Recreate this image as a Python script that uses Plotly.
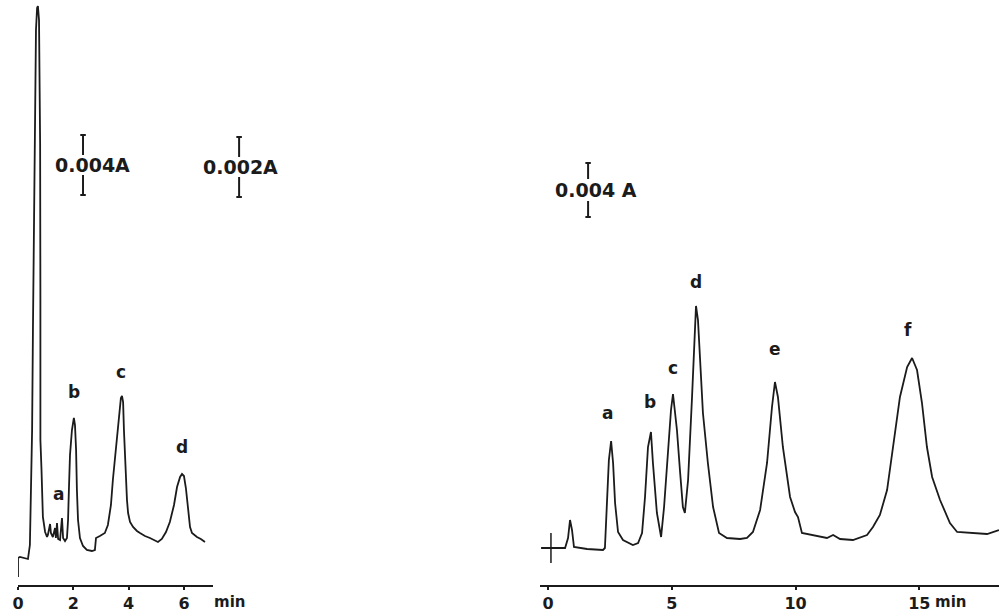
import plotly.graph_objects as go

# ---------------- data (time in min, detector response in arbitrary units) -------------
# Left chromatogram
left_time = [0.00, 0.00, 0.07, 0.36, 0.43, 0.47, 0.51, 0.54, 0.58, 0.61, 0.65, 0.69, 0.72, 0.76, 0.80,
             0.81, 0.81, 0.85, 0.90, 0.98, 1.05, 1.08, 1.16, 1.19, 1.26, 1.34, 1.37, 1.41, 1.45, 1.52,
             1.59, 1.63, 1.70, 1.77, 1.81, 1.84, 1.88, 1.95, 1.99, 2.02, 2.06, 2.10, 2.13, 2.17, 2.24,
             2.35, 2.49, 2.67, 2.78, 2.82, 2.96, 3.14, 3.25, 3.36, 3.43, 3.54, 3.61, 3.69, 3.72, 3.76,
             3.80, 3.83, 3.87, 3.94, 3.98, 4.05, 4.16, 4.30, 4.41, 4.59, 4.77, 4.95, 5.06, 5.20, 5.35,
             5.49, 5.64, 5.75, 5.86, 5.93, 6.00, 6.07, 6.14, 6.22, 6.29, 6.47, 6.61, 6.76]
left_signal = [0.8, 2.7, 2.8, 2.6, 4.0, 8.5, 15.5, 25.5, 36.5, 47.5, 55.5, 57.7, 57.9, 56.5, 44.0,
               28.5, 14.5, 11.5, 6.8, 5.3, 4.8, 5.0, 6.1, 5.2, 4.8, 5.7, 4.7, 6.2, 4.6, 4.5,
               6.7, 4.7, 4.4, 4.7, 6.5, 9.5, 13.0, 15.5, 16.5, 16.7, 16.0, 13.5, 9.5, 6.5, 4.7,
               3.9, 3.5, 3.4, 3.5, 4.7, 4.9, 5.2, 6.0, 8.0, 10.5, 13.5, 15.5, 18.0, 18.7, 18.9,
               18.3, 15.5, 12.2, 8.5, 7.2, 6.3, 5.8, 5.4, 5.2, 4.9, 4.7, 4.4, 4.3, 4.6, 5.3,
               6.3, 8.0, 9.8, 10.8, 11.1, 10.9, 9.7, 7.5, 5.8, 5.2, 4.8, 4.6, 4.3]

# Right chromatogram
right_time = [-0.28, 0.00, 0.48, 0.69, 0.81, 0.89, 0.97, 1.05, 1.58, 2.22, 2.30, 2.38, 2.46, 2.55, 2.63,
              2.71, 2.83, 3.03, 3.43, 3.64, 3.80, 3.92, 4.04, 4.16, 4.24, 4.40, 4.53, 4.57, 4.69, 4.85,
              4.97, 5.05, 5.13, 5.21, 5.33, 5.45, 5.53, 5.66, 5.82, 5.90, 5.98, 6.06, 6.14, 6.26, 6.46,
              6.67, 6.91, 7.23, 7.76, 8.04, 8.28, 8.57, 8.85, 9.05, 9.17, 9.29, 9.49, 9.78, 9.98, 10.10,
              10.26, 10.71, 11.27, 11.52, 11.80, 12.32, 12.89, 13.13, 13.41, 13.70, 13.94, 14.22, 14.51,
              14.71, 14.91, 15.11, 15.31, 15.52, 15.84, 16.24, 16.53, 17.05, 17.74, 18.22]
right_signal = [3.7, 3.7, 3.7, 3.7, 4.7, 6.5, 5.5, 3.8, 3.6, 3.5, 3.7, 8.8, 12.5, 14.4, 12.2,
                8.2, 5.3, 4.5, 4.0, 4.2, 5.2, 8.8, 13.8, 15.3, 12.2, 7.2, 5.0, 4.8, 7.8, 13.8,
                17.5, 19.1, 17.0, 15.5, 11.5, 7.8, 7.2, 10.5, 18.8, 23.8, 27.9, 26.5, 22.2, 17.2, 12.2,
                7.8, 5.2, 4.7, 4.6, 4.7, 5.3, 7.5, 12.2, 17.8, 20.3, 18.8, 13.8, 8.8, 7.3, 6.8,
                5.2, 5.0, 4.7, 5.0, 4.6, 4.5, 5.0, 5.8, 7.0, 9.5, 13.8, 18.8, 21.8,
                22.7, 21.5, 18.2, 13.8, 10.8, 8.5, 6.2, 5.3, 5.2, 5.1, 5.5]

# Peak labels
left_peaks = ["a", "b", "c", "d"]
left_peak_time = [1.45, 2.02, 3.72, 5.93]
left_peak_label_y = [9.1, 19.3, 21.3, 13.8]
right_peaks = ["a", "b", "c", "d", "e", "f"]
right_peak_time = [2.42, 4.12, 5.05, 5.98, 9.17, 14.55]
right_peak_label_y = [17.2, 18.3, 21.7, 30.3, 23.6, 25.5]

# Axis ticks
left_ticks = [0, 2, 4, 6]
right_ticks = [0, 5, 10, 15]

# Absorbance scale bars: text, time, bottom, top
left_bar_text = ["0.004A", "0.002A"]
left_bar_time = [2.35, 7.99]
left_bar_low = [39.0, 38.8]
left_bar_high = [45.0, 44.8]
right_bar_text = ["0.004 A"]
right_bar_time = [1.62]
right_bar_low = [36.8]
right_bar_high = [42.2]

INK = "#1b1b1b"
FONT = "DejaVu Sans"
CLEAR = "rgba(0,0,0,0)"

fig = go.Figure()
fig.add_trace(go.Scatter(x=left_time, y=left_signal, mode="lines",
                         line=dict(color=INK, width=1.8), xaxis="x", yaxis="y", hoverinfo="skip"))
fig.add_trace(go.Scatter(x=right_time, y=right_signal, mode="lines",
                         line=dict(color=INK, width=1.8), xaxis="x2", yaxis="y2", hoverinfo="skip"))

shapes = []
annotations = []

# injection mark on right trace
shapes.append(dict(type="line", xref="x2", yref="y2", x0=0.12, x1=0.12, y0=2.2, y1=5.2,
                   line=dict(color=INK, width=1.5)))


def add_bars(texts, times, lows, highs, xr, yr, cap, shifts, gap):
    for text, t, lo, hi, sh in zip(texts, times, lows, highs, shifts):
        mid = (lo + hi) / 2
        for a, b in ((mid + gap, hi), (lo, mid - gap)):
            shapes.append(dict(type="line", xref=xr, yref=yr, x0=t, x1=t, y0=a, y1=b,
                               line=dict(color=INK, width=2)))
        for yy in (lo, hi):
            shapes.append(dict(type="line", xref=xr, yref=yr, x0=t - cap, x1=t + cap, y0=yy, y1=yy,
                               line=dict(color=INK, width=2)))
        annotations.append(dict(text=text, xref=xr, yref=yr, x=t, y=mid,
                                showarrow=False, xanchor="center", yanchor="middle", xshift=sh,
                                font=dict(family=FONT, size=19, color=INK, weight=700)))


# left scale bars live on a hidden, wider time axis (x3) sharing the left time scale
add_bars(left_bar_text, left_bar_time, left_bar_low, left_bar_high, "x3", "y", 0.1, [9, 1], 1.0)
add_bars(right_bar_text, right_bar_time, right_bar_low, right_bar_high, "x2", "y2", 0.11, [8], 1.1)

for lab, t, yy in zip(left_peaks, left_peak_time, left_peak_label_y):
    annotations.append(dict(text=lab, xref="x", yref="y", x=t, y=yy, showarrow=False,
                            font=dict(family=FONT, size=17, color=INK, weight=700)))
for lab, t, yy in zip(right_peaks, right_peak_time, right_peak_label_y):
    annotations.append(dict(text=lab, xref="x2", yref="y2", x=t, y=yy, showarrow=False,
                            font=dict(family=FONT, size=17, color=INK, weight=700)))

# "min" units
for xr, xv in (("x3", 7.66), ("x2", 16.25)):
    annotations.append(dict(text="min", xref=xr, yref="paper", x=xv, y=1 - 602 / 612,
                            xanchor="center", yanchor="middle", showarrow=False,
                            font=dict(family=FONT, size=15, color=INK, weight=700)))

ydom = [27 / 612, 1]
tickfont = dict(family=FONT, size=16, color=INK, weight=700)
common_x = dict(ticks="outside", ticklen=3, tickwidth=1.5, tickcolor=INK, automargin=False,
                showgrid=False, zeroline=False, showline=True, linecolor=INK, linewidth=1.8,
                tickfont=tickfont)

fig.update_layout(
    width=999, height=612,
    margin=dict(l=0, r=0, t=0, b=0),
    paper_bgcolor="white", plot_bgcolor=CLEAR,
    showlegend=False,
    shapes=shapes, annotations=annotations,
    xaxis=dict(domain=[18 / 999, 213 / 999], range=[0, 7.05], anchor="y",
               tickvals=left_ticks, ticktext=[str(v) for v in left_ticks], **common_x),
    yaxis=dict(domain=ydom, range=[0, 58.5], visible=False, anchor="x"),
    xaxis2=dict(domain=[540 / 999, 1], range=[-0.323, 18.222], anchor="y2",
                tickvals=right_ticks, ticktext=[str(v) for v in right_ticks], **common_x),
    yaxis2=dict(domain=ydom, range=[0, 58.5], visible=False, anchor="x2"),
    xaxis3=dict(domain=[0, 0.30], range=[-0.6505, 10.18], anchor="y", visible=False),
)

fig.write_html("out.html", config={"displayModeBar": False},
               post_script="document.body.style.margin='0';document.body.style.padding='0';")
